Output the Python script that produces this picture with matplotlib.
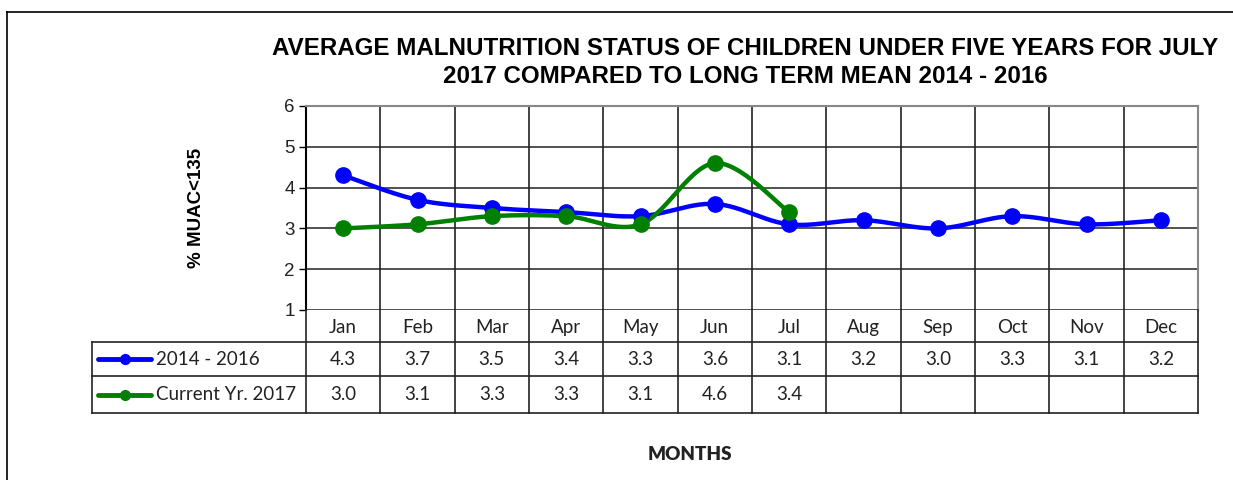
import numpy as np
import matplotlib
matplotlib.use("Agg")
import matplotlib.pyplot as plt
from matplotlib.lines import Line2D

# chart values
months = ['Jan', 'Feb', 'Mar', 'Apr', 'May', 'Jun', 'Jul', 'Aug', 'Sep', 'Oct', 'Nov', 'Dec']
long_term = [4.3, 3.7, 3.5, 3.4, 3.3, 3.6, 3.1, 3.2, 3.0, 3.3, 3.1, 3.2]
current = [3.0, 3.1, 3.3, 3.3, 3.1, 4.6, 3.4]
series_names = ['2014 - 2016', 'Current Yr. 2017']
series_colors = ['#0000FF', '#008000']
y_ticks = [1, 2, 3, 4, 5, 6]


def smooth(xs, ys, n=30):
    # Excel style smoothed line (bezier through the points)
    xs = np.asarray(xs, float)
    ys = np.asarray(ys, float)
    px, py = [], []
    for i in range(len(xs) - 1):
        x0, y0 = (xs[i - 1], ys[i - 1]) if i > 0 else (xs[i], ys[i])
        x3, y3 = (xs[i + 2], ys[i + 2]) if i + 2 < len(xs) else (xs[i + 1], ys[i + 1])
        x1, y1, x2, y2 = xs[i], ys[i], xs[i + 1], ys[i + 1]
        c1x, c1y = x1 + (x2 - x0) / 6, y1 + (y2 - y0) / 6
        c2x, c2y = x2 - (x3 - x1) / 6, y2 - (y3 - y1) / 6
        t = np.linspace(0, 1, n)
        bx = (1-t)**3*x1 + 3*(1-t)**2*t*c1x + 3*(1-t)*t**2*c2x + t**3*x2
        by = (1-t)**3*y1 + 3*(1-t)**2*t*c1y + 3*(1-t)*t**2*c2y + t**3*y2
        px.extend(bx)
        py.extend(by)
    return px, py


W, H = 1233, 480
fig = plt.figure(figsize=(W / 100, H / 100), dpi=100)


def box(l, t, r, b):
    return [l / W, 1 - b / H, (r - l) / W, (b - t) / H]


# outer chart frame (top and left edges only are inside the picture)
fig.add_artist(Line2D([7 / W, 1.0], [1 - 12 / H] * 2, transform=fig.transFigure,
                      color='black', lw=1.2))
fig.add_artist(Line2D([7 / W] * 2, [0, 1 - 12 / H], transform=fig.transFigure,
                      color='black', lw=1.2))

ax = fig.add_axes(box(306, 106, 1198, 310))
n = len(months)
x = np.arange(n)
ax.set_xlim(-0.5, n - 0.5)
ax.set_ylim(1, 6)
ax.set_yticks(y_ticks)
ax.set_yticklabels([str(v) for v in y_ticks], fontsize=13.5, family='Liberation Sans',
                   color='#222222')
ax.set_xticks([])
ax.tick_params(axis='y', length=5, width=1, pad=3)
for v in y_ticks:
    ax.axhline(v, color='#333333', lw=1.2, zorder=1)
for b in np.arange(n + 1) - 0.5:
    ax.axvline(b, color='#222222', lw=1.2, zorder=1)
for s in ['top', 'right']:
    ax.spines[s].set_color('#888888')
    ax.spines[s].set_linewidth(1.5)
ax.spines['bottom'].set_visible(False)
ax.spines['left'].set_linewidth(1.5)

for vals, c in zip([long_term, current], series_colors):
    sx, sy = smooth(x[:len(vals)], vals)
    ax.plot(sx, sy, color=c, lw=3.2, solid_capstyle='round', zorder=3)
    ax.plot(x[:len(vals)], vals, 'o', color=c, ms=11, zorder=4)

ax.set_ylabel('% MUAC<135', fontsize=13.5, fontweight='bold', family='Liberation Sans',
              labelpad=57)

fig.suptitle('AVERAGE MALNUTRITION STATUS OF CHILDREN UNDER FIVE YEARS FOR JULY\n'
             '2017 COMPARED TO LONG TERM MEAN 2014 - 2016',
             x=745 / W, y=1 - 37 / H, va='top', fontsize=17.4, fontweight='bold',
             family='Liberation Sans', linespacing=1.3)

# data table below the plot
leg_w = (306 - 92) / ((1198 - 306) / n)
tab = fig.add_axes(box(92, 310, 1198, 413))
tab.set_xlim(-0.5 - leg_w, n - 0.5)
tab.set_ylim(103, 0)
tab.axis('off')
rows = [0, 32, 66, 103]
lc = '#222222'
for b in np.arange(n + 1) - 0.5:
    tab.plot([b, b], [rows[0], rows[3]], color=lc, lw=1.2, clip_on=False)
for r in rows[1:]:
    tab.plot([-0.5 - leg_w, n - 0.5], [r, r], color=lc, lw=1.2, clip_on=False)
tab.plot([-0.5 - leg_w] * 2, [rows[1], rows[3]], color=lc, lw=1.2, clip_on=False)

tfont = dict(family='Lato', fontsize=13.5, ha='center', va='center', color='#222222')
for i, m in enumerate(months):
    tab.text(i, (rows[0] + rows[1]) / 2 + 1, m, **tfont)
for k, (vals, c, name) in enumerate(zip([long_term, current], series_colors, series_names)):
    yc = (rows[k + 1] + rows[k + 2]) / 2
    for i, v in enumerate(vals):
        tab.text(i, yc, f'{v:.1f}', **tfont)
    kx0 = -0.5 - leg_w + 0.08
    kx1 = kx0 + 0.72
    tab.add_line(Line2D([kx0, kx1], [yc, yc], color=c, lw=3.5, solid_capstyle='round'))
    tab.plot([(kx0 + kx1) / 2], [yc], 'o', color=c, ms=7)
    tab.text(kx1 + 0.06, yc, name, family='Lato', fontsize=13.5, ha='left', va='center',
             color='#222222')

fig.text(690 / W, 1 - 455 / H, 'MONTHS', family='Lato', fontsize=13.5, fontweight='heavy',
         ha='center', va='center', color='#222222')

fig.savefig('out.png', dpi=100)
